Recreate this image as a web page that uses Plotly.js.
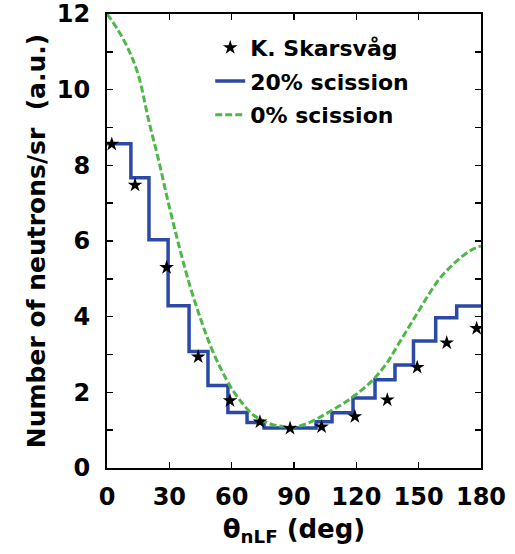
<!DOCTYPE html>
<html>
<head>
<meta charset="utf-8">
<script src="https://cdn.plot.ly/plotly-3.0.1.min.js"></script>
<style>html,body{margin:0;padding:0;background:#fff;}#chart{width:515px;height:554px;}</style>
</head>
<body>
<div id="chart"></div>
<script>
// Experimental points (K. Skarsvåg)
const expTheta = [2.3, 13.5, 28.7, 43.9, 59.2, 73.6, 88.1, 103.3, 119.3, 134.9, 149.3, 163.5, 177.9];
const expCounts = [8.56, 7.48, 5.30, 2.94, 1.78, 1.22, 1.05, 1.09, 1.36, 1.80, 2.66, 3.31, 3.69];

// 20% scission histogram: bin edges and bin values
const binEdges = [0, 11.5, 20.2, 29.4, 39.5, 48.6, 58.2, 67.4, 75.6, 88, 100.6, 108.3, 118.4, 129, 138.6, 147.5, 158.2, 168.3, 180];
const binValues = [8.57, 7.67, 6.03, 4.29, 3.08, 2.18, 1.47, 1.20, 1.06, 1.06, 1.22, 1.46, 1.85, 2.33, 2.72, 3.36, 3.97, 4.28];

// 0% scission curve
const curveTheta = [0, 5, 10, 15, 20, 25, 30, 35, 40, 45, 50, 55, 60, 65, 70, 75, 80, 85, 90, 95, 100, 105, 110, 115, 120, 125, 130, 135, 140, 145, 150, 155, 160, 165, 170, 175, 180];
const curveCounts = [12.0, 11.6, 11.1, 10.4, 9.2, 8.1, 6.9, 5.8, 4.8, 3.95, 3.2, 2.6, 2.1, 1.72, 1.42, 1.25, 1.14, 1.1, 1.08, 1.15, 1.27, 1.42, 1.58, 1.75, 1.95, 2.17, 2.45, 2.8, 3.25, 3.7, 4.15, 4.6, 5.0, 5.3, 5.55, 5.75, 5.87];

const xTickVals = [0, 30, 60, 90, 120, 150, 180];
const yTickVals = [0, 2, 4, 6, 8, 10, 12];

const FONT = '"DejaVu Sans", sans-serif';

const stepY = binValues.concat([binValues[binValues.length - 1]]);

const traces = [
  {
    x: binEdges, y: stepY, type: 'scatter', mode: 'lines',
    line: {shape: 'hv', color: '#2b4aa6', width: 3.5},
    name: '20% scission', legendrank: 2, legendgroup: 'b'
  },
  {
    x: curveTheta, y: curveCounts, type: 'scatter', mode: 'lines',
    line: {shape: 'spline', color: '#4db848', width: 3, dash: '7px,3px'},
    name: '0% scission', legendrank: 3, legendgroup: 'c'
  },
  {
    x: expTheta, y: expCounts, type: 'scatter', mode: 'markers',
    marker: {symbol: 'star', size: 11, color: '#000'},
    name: 'K. Skarsvåg', legendrank: 1, legendgroup: 'a'
  }
];

const axisCommon = {
  showline: true, linewidth: 2, linecolor: '#000', mirror: 'ticks',
  ticks: 'inside', ticklen: 6, tickwidth: 1.5, tickcolor: '#000',
  showgrid: false, zeroline: false,
  tickfont: {family: FONT, size: 24, color: '#000', weight: 'bold'}
};

const layout = {
  width: 515, height: 554,
  margin: {l: 107, r: 34, t: 14, b: 86},
  paper_bgcolor: '#fff', plot_bgcolor: '#fff',
  showlegend: true,
  legend: {
    x: 0.276, y: 0.972, xanchor: 'left', yanchor: 'top',
    bgcolor: 'rgba(0,0,0,0)', borderwidth: 0,
    tracegroupgap: 2, traceorder: 'grouped',
    font: {family: FONT, size: 22, color: '#000', weight: 'bold'}
  },
  xaxis: Object.assign({}, axisCommon, {
    range: [0, 180], tickmode: 'array', tickvals: xTickVals,
    ticktext: xTickVals.map(String), ticklabelstandoff: 6,
    title: {text: 'θ<sub>nLF</sub> (deg)', standoff: 10,
      font: {family: FONT, size: 26, color: '#000', weight: 'bold'}}
  }),
  yaxis: Object.assign({}, axisCommon, {
    range: [0, 12], tickmode: 'array', tickvals: yTickVals,
    ticktext: yTickVals.map(String), ticklabelstandoff: 10,
    minor: {dtick: 1, ticks: 'inside', ticklen: 6, tickwidth: 1.5, tickcolor: '#000'},
    title: {text: 'Number of neutrons/sr  (a.u.)', standoff: 4,
      font: {family: FONT, size: 25, color: '#000', weight: 'bold'}}
  })
};

Plotly.newPlot('chart', traces, layout, {displayModeBar: false, staticPlot: true});
</script>
</body>
</html>
